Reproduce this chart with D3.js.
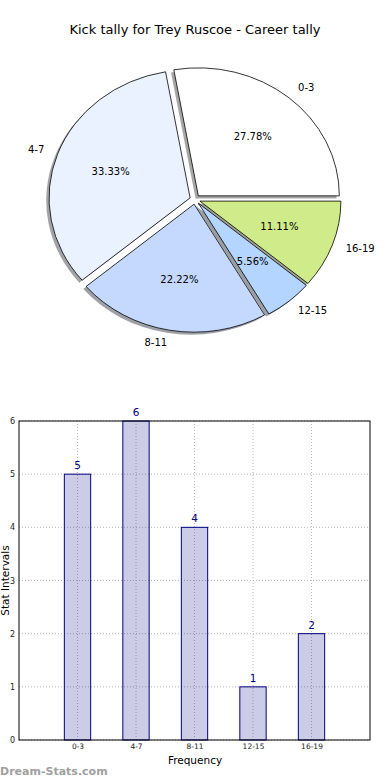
<!DOCTYPE html>
<html>
<head>
<meta charset="utf-8">
<script src="https://cdn.jsdelivr.net/npm/d3@7"></script>
<style>
  body { margin: 0; background: #fff; }
  svg { display: block; font-family: "DejaVu Sans", sans-serif; }
</style>
</head>
<body>
<div id="chart"></div>
<script>
// chart data
const categories = ["0-3", "4-7", "8-11", "12-15", "16-19"];
const counts = [5, 6, 4, 1, 2];
const sliceColors = ["#ffffff", "#eaf1ff", "#c5d9ff", "#b3d5ff", "#d0eb8a"];
const yTicks = [0, 1, 2, 3, 4, 5, 6];
const chartTitle = "Kick tally for Trey Ruscoe - Career tally";

const width = 390, height = 780;

const svg = d3.select("#chart")
    .append("svg")
    .attr("width", width)
    .attr("height", height);

// title
svg.append("text")
    .attr("x", 195)
    .attr("y", 30)
    .attr("text-anchor", "middle")
    .attr("dominant-baseline", "middle")
    .style("font-size", "13px")
    .text(chartTitle);

// ---- pie (stretched like matplotlib without equal aspect) ----
const cx = 195, cy = 199.5, rx = 141, ry = 128;
const explode = 0.037;
const total = d3.sum(counts);

// start at 3 o'clock, go counterclockwise
const pie = d3.pie().sort(null)
    .startAngle(Math.PI / 2)
    .endAngle(Math.PI / 2 - 2 * Math.PI);
const arcs = pie(counts);
const unitArc = d3.arc().innerRadius(0).outerRadius(1);

function midDir(d) {
    const m = (d.startAngle + d.endAngle) / 2;
    return [Math.sin(m), -Math.cos(m)];
}
function sliceCenter(d) {
    const [dx, dy] = midDir(d);
    return [cx + explode * rx * dx, cy + explode * ry * dy];
}

const pieG = svg.append("g");

// shadows first, under every wedge
pieG.selectAll("path.shadow")
    .data(arcs)
    .enter()
    .append("path")
    .attr("class", "shadow")
    .attr("d", unitArc)
    .attr("transform", d => {
        const [x, y] = sliceCenter(d);
        return `translate(${x - 2.8},${y + 2.6}) scale(${rx},${ry})`;
    })
    .attr("fill", (d, i) => {
        const c = d3.rgb(sliceColors[i]);
        return d3.rgb(c.r * 0.3, c.g * 0.3, c.b * 0.3);
    })
    .attr("fill-opacity", 0.5);

pieG.selectAll("path.wedge")
    .data(arcs)
    .enter()
    .append("path")
    .attr("class", "wedge")
    .attr("d", unitArc)
    .attr("transform", d => {
        const [x, y] = sliceCenter(d);
        return `translate(${x},${y}) scale(${rx},${ry})`;
    })
    .attr("fill", (d, i) => sliceColors[i])
    .attr("stroke", "#000")
    .attr("stroke-width", 0.8)
    .attr("vector-effect", "non-scaling-stroke");

// outer labels
pieG.selectAll("text.lbl")
    .data(arcs)
    .enter()
    .append("text")
    .attr("class", "lbl")
    .attr("x", d => sliceCenter(d)[0] + 1.1 * rx * midDir(d)[0])
    .attr("y", d => sliceCenter(d)[1] + 1.1 * ry * midDir(d)[1])
    .attr("text-anchor", d => midDir(d)[0] >= 0 ? "start" : "end")
    .attr("dominant-baseline", "middle")
    .style("font-size", "10px")
    .text((d, i) => categories[i]);

// percentage labels
pieG.selectAll("text.pct")
    .data(arcs)
    .enter()
    .append("text")
    .attr("class", "pct")
    .attr("x", d => sliceCenter(d)[0] + 0.6 * rx * midDir(d)[0])
    .attr("y", d => sliceCenter(d)[1] + 0.6 * ry * midDir(d)[1])
    .attr("text-anchor", "middle")
    .attr("dominant-baseline", "middle")
    .style("font-size", "10px")
    .text(d => (d.value / total * 100).toFixed(2) + "%");

// ---- bar chart ----
const bx0 = 19, bx1 = 370, by0 = 421, by1 = 740;
const x = d3.scaleLinear().domain([-1, 5]).range([bx0, bx1]);
const y = d3.scaleLinear().domain([0, 6]).range([by1, by0]);
const barW = x(0.45) - x(0);

const barG = svg.append("g");

// grid lines
barG.append("g")
    .selectAll("line")
    .data(yTicks)
    .enter()
    .append("line")
    .attr("x1", bx0).attr("x2", bx1)
    .attr("y1", d => y(d)).attr("y2", d => y(d))
    .attr("stroke", "#b8b8b8")
    .attr("stroke-dasharray", "1,2");

barG.append("g")
    .selectAll("line")
    .data(categories)
    .enter()
    .append("line")
    .attr("x1", (d, i) => x(i)).attr("x2", (d, i) => x(i))
    .attr("y1", by0).attr("y2", by1)
    .attr("stroke", "#b8b8b8")
    .attr("stroke-dasharray", "1,2");

// bars (navy at alpha 0.2 so the grid shows through)
barG.selectAll("rect.bar")
    .data(counts)
    .enter()
    .append("rect")
    .attr("class", "bar")
    .attr("x", (d, i) => x(i) - barW / 2)
    .attr("y", d => y(d))
    .attr("width", barW)
    .attr("height", d => y(0) - y(d))
    .attr("fill", "navy")
    .attr("fill-opacity", 0.2)
    .attr("stroke", "navy")
    .attr("stroke-width", 1);

// values on top
barG.selectAll("text.val")
    .data(counts)
    .enter()
    .append("text")
    .attr("class", "val")
    .attr("x", (d, i) => x(i))
    .attr("y", d => y(d) - 5)
    .attr("text-anchor", "middle")
    .attr("fill", "navy")
    .style("font-size", "10.5px")
    .text(d => d);

// frame
barG.append("rect")
    .attr("x", bx0).attr("y", by0)
    .attr("width", bx1 - bx0).attr("height", by1 - by0)
    .attr("fill", "none")
    .attr("stroke", "#000")
    .attr("stroke-width", 1);

// axes
const yAxis = d3.axisLeft(y).tickValues(yTicks).tickFormat(d3.format("d")).tickSize(0).tickPadding(4);
barG.append("g")
    .attr("transform", `translate(${bx0},0)`)
    .call(yAxis)
    .call(g => g.select(".domain").remove())
    .call(g => g.selectAll("text").style("font-size", "8px").attr("fill", "#222").style("font-family", "DejaVu Sans"));

const xAxis = d3.axisBottom(x).tickValues(d3.range(categories.length))
    .tickFormat(i => categories[i]).tickSize(0).tickPadding(4);
barG.append("g")
    .attr("transform", `translate(0,${by1})`)
    .call(xAxis)
    .call(g => g.select(".domain").remove())
    .call(g => g.selectAll("text").style("font-size", "7.5px").attr("fill", "#222").style("font-family", "DejaVu Sans"));

// axis titles
svg.append("text")
    .attr("x", 195)
    .attr("y", 764)
    .attr("text-anchor", "middle")
    .style("font-size", "10.5px")
    .text("Frequency");

svg.append("text")
    .attr("transform", `translate(9,${(by0 + by1) / 2}) rotate(-90)`)
    .attr("text-anchor", "middle")
    .style("font-size", "10.5px")
    .text("Stat Intervals");

// watermark
svg.append("text")
    .attr("x", 0)
    .attr("y", 775)
    .attr("fill", "#a0a0a0")
    .style("font-size", "11px")
    .style("font-weight", "bold")
    .text("Dream-Stats.com");
</script>
</body>
</html>
